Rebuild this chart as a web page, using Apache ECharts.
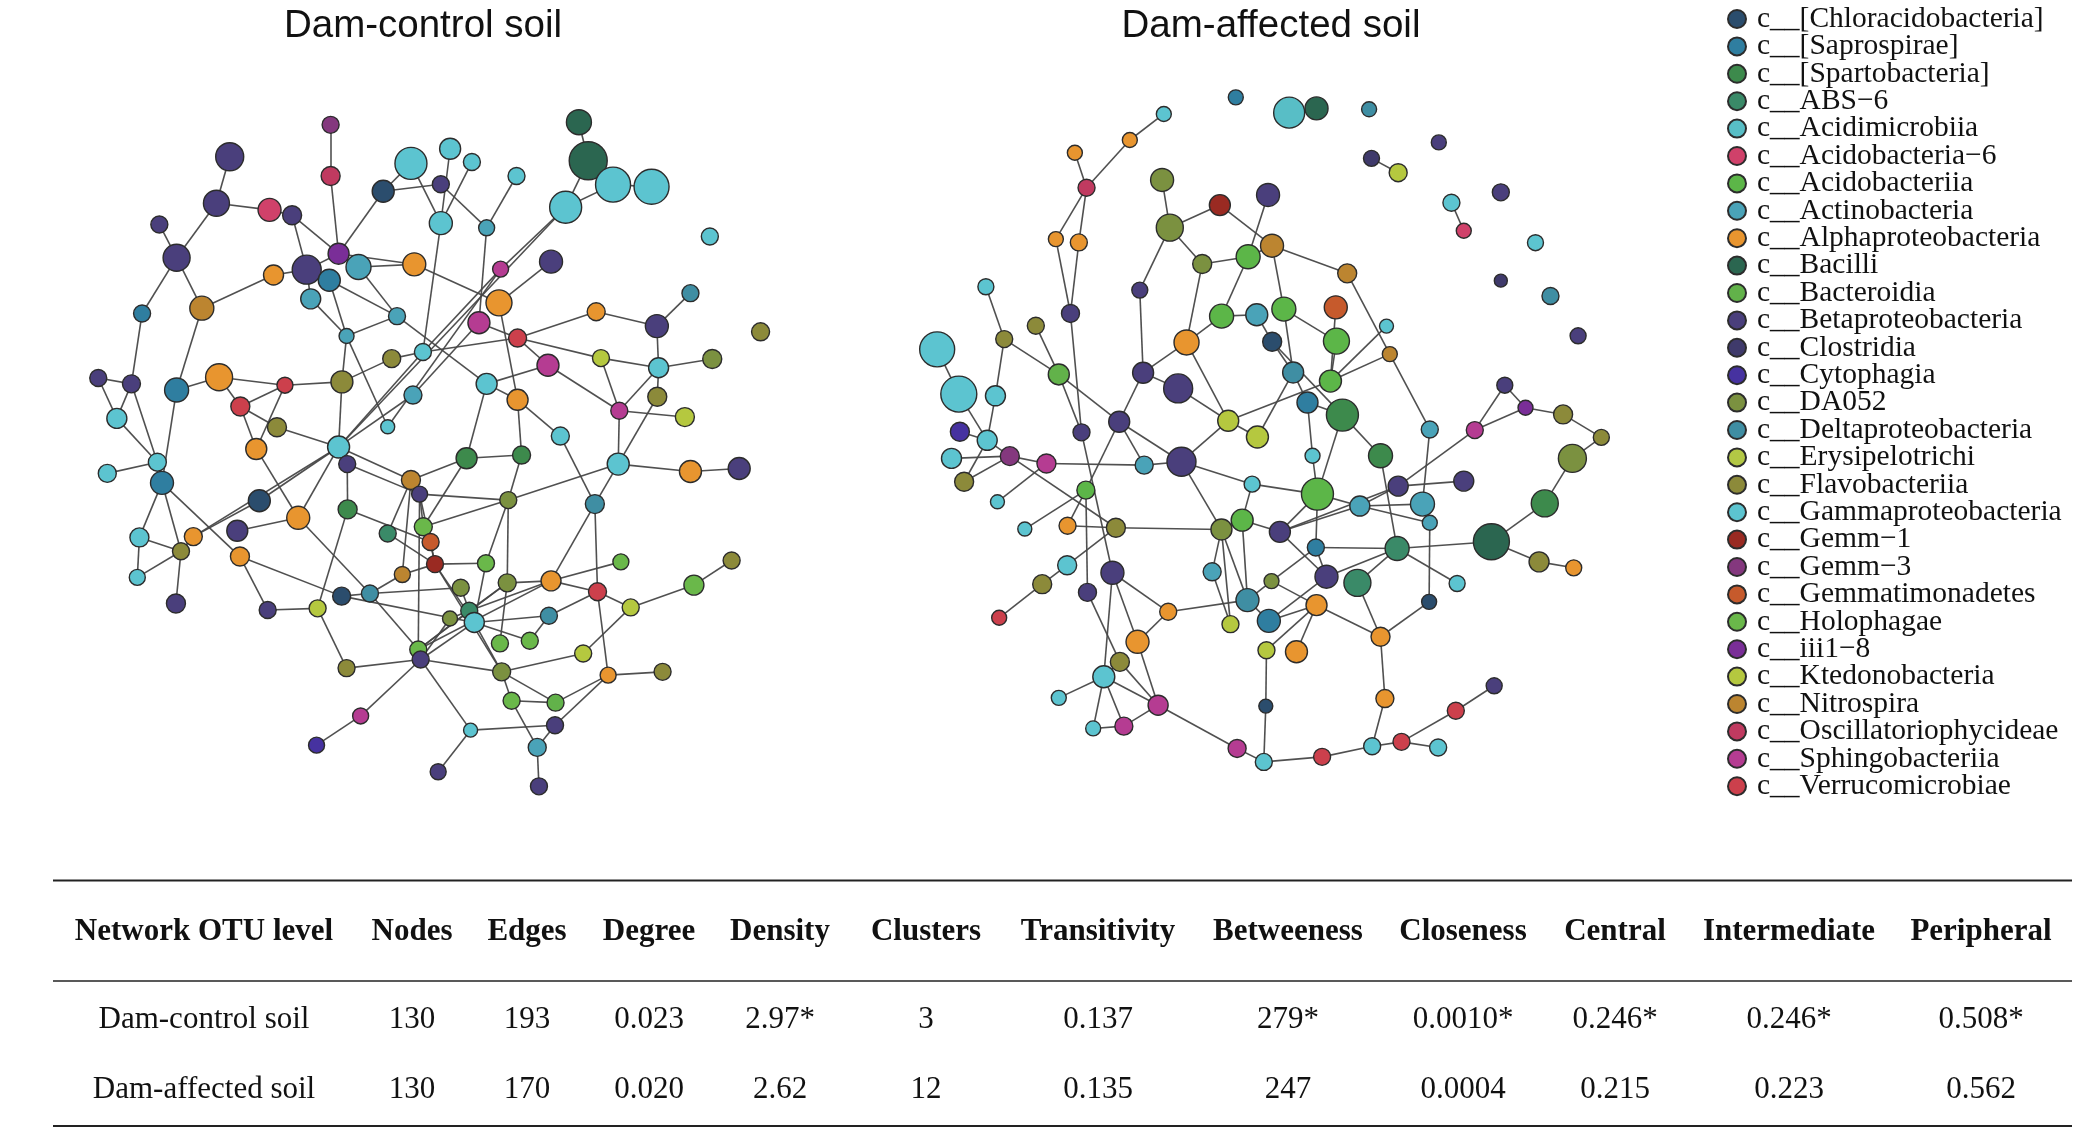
<!DOCTYPE html>
<html>
<head>
<meta charset="utf-8">
<script src="https://cdn.jsdelivr.net/npm/echarts@6/dist/echarts.min.js"></script>
<style>
  html, body { margin: 0; padding: 0; background: #fff; }
  #main { width: 2082px; height: 1137px; }
</style>
</head>
<body>
<div id="main"></div>
<script>
// class names (legend order) and colours
const classNames = [
  'c__[Chloracidobacteria]', 'c__[Saprospirae]', 'c__[Spartobacteria]', 'c__ABS\u22126',
  'c__Acidimicrobiia', 'c__Acidobacteria\u22126', 'c__Acidobacteriia', 'c__Actinobacteria',
  'c__Alphaproteobacteria', 'c__Bacilli', 'c__Bacteroidia', 'c__Betaproteobacteria',
  'c__Clostridia', 'c__Cytophagia', 'c__DA052', 'c__Deltaproteobacteria',
  'c__Erysipelotrichi', 'c__Flavobacteriia', 'c__Gammaproteobacteria', 'c__Gemm\u22121',
  'c__Gemm\u22123', 'c__Gemmatimonadetes', 'c__Holophagae', 'c__iii1\u22128',
  'c__Ktedonobacteria', 'c__Nitrospira', 'c__Oscillatoriophycideae', 'c__Sphingobacteriia',
  'c__Verrucomicrobiae'
];
const classColors = [
  '#2b4d6d', '#2f7ea0', '#3d8a4c', '#3a8a68', '#58bec6', '#d0416a', '#5cb648', '#4aa3b8',
  '#e8952f', '#2b6650', '#62b24a', '#4a3f7c', '#3f3a6b', '#4632a0', '#7b9140', '#3f8ea3',
  '#b3c845', '#8c8a3a', '#5cc4d0', '#9a2a22', '#84387e', '#c65a2c', '#6ab84a', '#7a2e98',
  '#b5c83f', '#bc8530', '#c03a60', '#b53c92', '#cc404c'
];

// nodes: [name, x, y, class, size]  (x,y in picture units 1568 x 856)
const controlNodes = [
  ['n1',249,94,20,17],['n2',249,132.5,26,19],['n3',173,118,11,28],['n4',163,153,11,26],
  ['n5',203,158,5,23],['n6',220,162,11,19],['n7',120,169,11,17],['n8',133,194,11,27],
  ['n9',255,191,23,21],['n10',231,203,11,29],['n11',248,211,1,22],['n12',270,201,7,25],
  ['n13',206,207,8,20],['n14',312,199,8,23],['n15',234,225,7,20],['n16',152,232,25,24],
  ['n17',107,236,1,17],['n18',299,238,7,17],['n19',261,253,7,15],['n20',295,270,17,18],
  ['n21',318.5,265,18,17],['n22',257.5,287.5,17,22],['n23',214.6,290,28,16],['n24',165,284,8,27],
  ['n25',133,293.6,1,24],['n26',99,289,11,18],['n27',74,284.6,11,17],['n28',181,306,28,19],
  ['n29',208.6,321.7,17,19],['n30',88,315,18,20],['n31',193,338,8,21],['n32',255,336.5,18,22],
  ['n33',311,297.4,7,18],['n34',292,321.3,18,14],['n35',118.5,348,18,18],['n36',309.5,123,18,32],
  ['n37',288.6,144,0,22],['n38',339,112,18,21],['n39',355.4,122,18,17],['n40',332,138.7,11,17],
  ['n41',332,168,18,23],['n42',366.5,171.5,7,16],['n43',389,132.5,18,17],['n44',436,92,9,25],
  ['n45',443,121,9,38],['n46',461.7,139,18,35],['n47',490.7,140.6,18,35],['n48',426,156,18,32],
  ['n49',534.6,178,18,17],['n50',415,197,11,23],['n51',377,202.6,27,16],['n52',375.8,228,8,26],
  ['n53',360.7,243,27,22],['n54',389.8,254.5,28,18],['n55',449,234.7,8,18],['n56',494.7,245.5,11,23],
  ['n57',520,220.7,15,17],['n58',572.8,249.8,17,18],['n59',412.7,275,27,22],['n60',452.6,269.6,24,17],
  ['n61',496,276.9,18,20],['n62',536.4,270.3,14,19],['n63',495,298.7,17,19],['n64',466.4,309.2,27,17],
  ['n65',515.8,314,24,19],['n66',366.5,289,18,21],['n67',389.8,301,8,21],['n68',422,328.3,18,18],
  ['a',80.8,356.4,18,18],['c',122,363.5,1,23],['f',261.5,349.4,11,17],['g',309.5,361.4,25,19],
  ['h',316,372,11,16],['i',195.3,377,0,22],['j',224.6,389.8,8,23],['k',261.8,383.5,2,19],
  ['l',178.7,399.6,11,21],['m',105,404.6,18,19],['n',145.6,404,8,18],['o',136.3,415,17,17],
  ['p',180.7,419,8,19],['q',292,401.6,3,17],['r',318.8,396.6,22,18],['s',324.3,408,21,17],
  ['t',327.6,424.7,19,17],['u',303,432.5,25,16],['v',103.4,434.7,18,16],['w',132.5,454.3,11,19],
  ['x',201.6,459.3,11,17],['y',239.2,458,24,17],['z',257.3,448.8,0,18],['aa',278.6,446.8,15,17],
  ['bb',315,489,22,17],['cc',316.8,496.5,11,17],['dd',261,503,17,17],['ee',271.6,539,27,16],
  ['ff',238.4,561,13,16],['gg',330,581,11,16],['A',351.4,345,2,21],['B',392.8,342.6,2,18],
  ['D',465.6,349.4,18,22],['E',520,355,8,22],['F',556.7,352.7,11,22],['H',382.8,376.5,14,17],
  ['I',448,379.5,15,19],['M',366,424,22,17],['N',382,438.8,14,18],['O',347,442.5,14,17],
  ['P',415,437.3,8,20],['Q',467.6,423,22,16],['R',551,422,17,17],['S',450,445.5,28,18],
  ['T',522.6,440.5,22,20],['U',475,457.3,24,17],['V',353.4,459.8,3,17],['W',338.9,465.6,14,15],
  ['X',357.2,468.6,18,20],['Y',413.4,463.6,15,17],['Z',376.5,484.4,22,17],['AA',399,482.4,22,17],
  ['AB',439.2,492,24,17],['AC',377.8,505.8,14,18],['AD',458,508.3,8,16],['AE',499,505.8,17,17],
  ['AF',385.3,527.6,22,17],['AG',418.4,529,10,17],['AH',418,546,11,17],['AI',354.4,549.7,18,14],
  ['AJ',404.6,562.7,7,18],['AL',405.9,592,11,17]
];
const controlEdges = [
  ['n1','n2'],['n2','n9'],['n3','n4'],['n4','n5'],['n4','n8'],['n5','n6'],['n7','n8'],['n8','n17'],
  ['n8','n16'],['n6','n9'],['n6','n10'],['n9','n37'],['n9','n12'],['n9','n10'],['n10','n13'],['n13','n16'],
  ['n9','n14'],['n12','n14'],['n12','n18'],['n11','n19'],['n11','n18'],['n10','n15'],['n15','n19'],['n10','n11'],
  ['n18','n19'],['n19','n22'],['n19','n34'],['n16','n25'],['n17','n26'],['n27','n26'],['n26','n30'],['n27','n30'],
  ['n24','n23'],['n24','n25'],['n23','n22'],['n22','n20'],['n20','n21'],['n24','n28'],['n28','n23'],['n28','n29'],
  ['n28','n31'],['n23','n31'],['n29','n32'],['n22','n32'],['n32','n33'],['n32','n21'],['n36','n37'],['n37','n40'],
  ['n36','n41'],['n41','n21'],['n14','n52'],['n38','n41'],['n39','n41'],['n40','n42'],['n43','n42'],['n44','n45'],
  ['n45','n48'],['n48','n46'],['n45','n46'],['n46','n47'],['n48','n51'],['n51','n21'],['n42','n53'],['n50','n52'],
  ['n52','n67'],['n53','n54'],['n54','n55'],['n55','n56'],['n56','n57'],['n56','n61'],['n54','n59'],['n54','n21'],
  ['n53','n33'],['n18','n66'],['n66','n59'],['n66','n67'],['n66','A'],['n67','B'],['n67','n68'],['n59','n64'],
  ['n60','n64'],['n54','n60'],['n60','n61'],['n61','n62'],['n61','n63'],['n64','n65'],['n61','n64'],['n63','D'],
  ['n64','D'],['n68','I'],['n32','n48'],['n34','n51'],
  ['a','n35'],['n35','c'],['n30','n35'],['n26','n35'],['n25','c'],['c','m'],['c','o'],['c','p'],
  ['m','o'],['m','v'],['v','o'],['o','w'],['n','o'],['n','i'],['n','n32'],['n31','j'],
  ['n32','i'],['n32','j'],['n32','f'],['f','k'],['n32','g'],['f','h'],['l','j'],['j','aa'],
  ['p','z'],['p','x'],['x','y'],['y','k'],['y','dd'],['z','aa'],['aa','u'],['z','X'],
  ['aa','O'],['aa','bb'],['k','s'],['q','t'],['g','q'],['g','u'],['g','h'],['h','r'],
  ['h','t'],['u','t'],['bb','cc'],['cc','dd'],['cc','ee'],['ee','ff'],['cc','AI'],['gg','AI'],['h','bb'],
  ['A','B'],['A','g'],['A','r'],['B','H'],['D','E'],['E','F'],['D','H'],['D','I'],
  ['h','H'],['H','r'],['H','N'],['H','M'],['I','P'],['I','S'],['t','M'],['M','X'],
  ['N','P'],['P','Q'],['P','S'],['P','V'],['P','bb'],['S','U'],['S','Y'],['S','AD'],
  ['U','T'],['T','R'],['U','AB'],['Y','AA'],['X','Y'],['X','AA'],['V','N'],['W','V'],
  ['W','cc'],['V','bb'],['X','cc'],['N','bb'],['Z','N'],['X','AC'],['t','AC'],['AC','AB'],
  ['AC','AF'],['AC','AG'],['cc','AC'],['AF','AG'],['AF','AJ'],['AG','AD'],['AH','AD'],['AH','AJ'],
  ['AI','AH'],['AJ','AL'],['AD','AE'],['O','V'],['t','X'],['r','s'],['s','t'],['X','V']
];

const affectedNodes = [
  ['R1',930.7,73.3,1,15],['R2',876.5,85.8,18,15],['R3',850.9,105.4,8,15],['R4',809.5,115,8,15],
  ['R5',818.3,141.3,26,17],['R6',795.2,180,8,15],['R7',812.5,182.5,8,17],['R8',875.2,135.5,14,23],
  ['R9',918.7,154.4,19,21],['R10',881,171.4,14,27],['R11',905.4,198.8,14,19],['R12',940,193.3,6,24],
  ['R14',742.5,215.9,18,16],['R15',858.4,218.4,11,16],['R16',806.2,236,11,18],['R17',780.1,245.2,17,17],
  ['R18',756.3,255.3,17,17],['R19',920,238,6,24],['R20',946.5,237,7,22],['R21',893.6,257.8,8,25],
  ['R22',705.8,263,18,35],['R23',722.1,296.7,18,36],['R24',749.7,298,18,20],['R25',797.4,281.9,10,21],
  ['R26',860.9,280.6,11,21],['R27',887.3,292.4,11,29],['R28',925,316.8,24,21],['R29',947,329,24,22],
  ['R30',722.9,325,13,19],['R31',743.5,331.5,18,20],['R32',814.5,325.5,11,17],['R33',842.9,317.5,11,21],
  ['S1',970.9,84.8,4,31],['S2',991.5,81.6,9,23],['S3',1031.1,82.3,15,15],['S4',1083.6,107.2,11,15],
  ['S5',1032.9,119.2,12,16],['S6',1053,130,24,18],['S7',955,146.8,11,23],['S8',1130.3,144.8,11,17],
  ['S9',1093.1,152.6,18,17],['S10',1102.4,173.7,5,15],['S11',1156.4,182.7,18,16],['S12',1130.3,211.3,12,13],
  ['S13',1167.7,222.9,15,17],['S14',1188.5,252.8,11,16],['S15',958,185,25,23],['S16',1014.6,205.8,25,19],
  ['S17',966.9,232.7,6,24],['S18',1006,231.4,21,23],['S19',1044.2,245.5,18,14],['S21',958.1,257.3,0,19],
  ['S22',1006.5,256.8,6,26],['S23',1046.7,266.6,25,15],['S24',973.9,280.4,15,21],['S25',1002,286.9,6,22],
  ['S26',984.7,303,1,21],['S27',1011,312.5,2,32],['S28',1076.8,323.3,7,17],['S29',1110.7,323.8,27,17],
  ['S30',1133.3,290,11,16],['S31',1148.9,307,23,15],['S32',1177.2,312,17,19],['S33',1206,329.3,17,16],
  ['T3',716.6,345.1,18,20],['T4',760.5,343.4,20,19],['T5',788.1,348.9,27,19],['T6',726.1,362.7,17,19],
  ['T7',751.2,377.8,18,14],['T10',817.8,369,6,18],['T11',861.7,350.2,7,18],['T12',889.8,347.6,11,29],
  ['T13',771.8,398.3,18,14],['T14',804,395.8,8,17],['T15',840.4,397.3,17,19],['T16',919.9,398.6,14,21],
  ['T17',935.5,391.6,6,22],['T18',943,364.5,18,16],['T19',803.7,425.5,18,19],['T20',784.9,439.8,17,19],
  ['T21',752.5,465.1,28,15],['T22',837.8,431.2,11,23],['T23',819,446,11,18],['T24',912.9,430.5,7,18],
  ['T25',939.5,451.8,15,23],['T26',926.7,469.9,24,17],['T27',879.8,460.6,8,17],['T28',856.7,483.2,8,23],
  ['T29',843.4,498.3,17,19],['T30',831.3,509.5,18,22],['T31',797.4,525.4,18,15],['T32',872.2,530.9,27,20],
  ['T33',823.3,548.4,18,15],['T34',846.4,546.7,27,18],['T35',931.7,563.5,27,18],
  ['U5',988.5,343.1,18,15],['U6',1039.7,343.1,2,24],['U7',1053,366,11,20],['U8',1102.4,362.2,11,20],
  ['U9',992.2,372,6,32],['U10',1024.1,381,7,20],['U11',1071.3,379.5,7,24],['U12',1076.8,393.6,7,15],
  ['U13',1184.2,345.1,14,28],['U15',1163.4,379,2,27],['U16',1123.2,407.9,9,36],['U17',1159.1,423,17,20],
  ['U18',1185.2,427.5,8,16],['U19',963.9,400.4,11,21],['U20',991,412.2,1,17],['U21',1052.2,412.9,3,24],
  ['U22',957.6,437.5,14,15],['U23',999,434.2,11,23],['U24',1022.3,438.8,3,27],['U25',1097.4,439.3,18,16],
  ['U26',991.5,455.6,8,21],['U27',1076.3,453.1,0,15],['U28',955.6,467.4,1,23],['U29',953.8,489.5,24,17],
  ['U30',976.4,490.7,8,22],['U31',1039.7,479.4,8,19],['U32',1043,525.9,8,18],['U33',953.3,531.6,0,14],
  ['U34',1125.3,516.3,11,16],['U35',1096.4,535.1,28,17],['U36',1055.5,558.5,28,17],['U37',1083.1,562.8,18,17],
  ['U38',1033.4,561.8,18,17],['U39',995.7,569.8,28,17],['U40',951.8,573.6,18,17]
];
const affectedEdges = [
  ['R2','R3'],['R3','R5'],['R4','R5'],['R5','R6'],['R5','R7'],['R6','R16'],['R7','R16'],['R8','R10'],
  ['R10','R9'],['R9','S15'],['R10','R11'],['R11','R12'],['R10','R15'],['R11','R21'],['R12','R19'],['R19','R20'],
  ['R19','R21'],['R21','R26'],['R21','R28'],['R15','R26'],['R26','R27'],['R26','R33'],['R27','R28'],['R28','R29'],
  ['R14','R18'],['R18','R24'],['R17','R25'],['R18','R25'],['R25','R33'],['R25','R32'],['R16','R32'],['R22','R23'],
  ['R23','R31'],['R24','R31'],['R30','R31'],['S7','R12'],['R12','S15'],
  ['S1','S2'],['S5','S6'],['S9','S10'],['S15','S16'],['S15','S17'],['S16','S23'],['S17','S22'],['S18','S25'],
  ['S19','S25'],['S23','S25'],['S23','S28'],['S22','S25'],['S21','S24'],['S21','S27'],['S24','S26'],['S26','S27'],
  ['S24','R29'],['S25','R28'],['S17','S24'],['S30','S31'],['S31','S32'],['S30','S29'],['S31','S29'],['S32','S33'],
  ['R20','S21'],
  ['T3','T4'],['R31','T4'],['R31','T6'],['T6','T4'],['T4','T5'],['T4','T15'],['T5','T11'],['T7','T5'],
  ['T11','R33'],['T11','T12'],['T12','R33'],['T12','T18'],['T12','T16'],['T12','R28'],['R33','T10'],['R32','T22'],
  ['T10','T13'],['T10','T14'],['T10','T23'],['T14','T15'],['T15','T16'],['T15','T19'],['T19','T20'],['T20','T21'],
  ['T16','T17'],['T16','T24'],['T16','T26'],['T16','T25'],['T17','T18'],['T17','T25'],['T24','T26'],['T22','T27'],
  ['T22','T28'],['T22','T30'],['T27','T28'],['T27','T25'],['T23','T29'],['T28','T32'],['T29','T30'],['T29','T32'],
  ['T30','T31'],['T30','T33'],['T30','T34'],['T30','T32'],['T33','T34'],['T34','T32'],['T32','T35'],['T35','U40'],
  ['U40','U39'],['T25','U28'],['T25','U22'],
  ['S33','U13'],['U13','U15'],['U15','U16'],['U16','U17'],['U17','U18'],['U16','U21'],['S29','U7'],['U7','U8'],
  ['U7','U10'],['U19','U7'],['U6','U21'],['U12','U27'],['S28','U11'],['S26','U5'],['U5','U9'],['S27','U9'],
  ['U9','U10'],['U10','U11'],['U10','U12'],['T18','U9'],['U9','U19'],['U9','U20'],['U19','U10'],['U19','U23'],
  ['U20','U21'],['U21','U25'],['U21','U24'],['U21','U23'],['U24','U31'],['U26','U31'],['U27','U31'],['U31','U32'],
  ['U32','U38'],['U38','U36'],['U36','U37'],['U36','U35'],['U35','U34'],['U38','U39'],['U33','U40'],['U33','U29'],
  ['U22','U20'],['U22','U26'],['U23','U28'],['U26','U28'],['U26','U29'],['U26','U30'],['U19','T17'],['U20','U23'],
  ['U11','U12'],['S27','U6']
];

const panelTitles = ['Dam-control soil', 'Dam-affected soil'];

// table
const tableHeader = ['Network OTU level', 'Nodes', 'Edges', 'Degree', 'Density', 'Clusters',
  'Transitivity', 'Betweeness', 'Closeness', 'Central', 'Intermediate', 'Peripheral'];
const rowControl = ['Dam-control soil', '130', '193', '0.023', '2.97*', '3', '0.137', '279*',
  '0.0010*', '0.246*', '0.246*', '0.508*'];
const rowAffected = ['Dam-affected soil', '130', '170', '0.020', '2.62', '12', '0.135', '247',
  '0.0004', '0.215', '0.223', '0.562'];

const chart = echarts.init(document.getElementById('main'));

const toGraph = (nodes, edges) => ({
  data: nodes.map(([name, x, y, cls, size]) => ({
    name, value: [x, y], category: cls, symbolSize: size
  })),
  links: edges.map(([source, target]) => ({ source, target }))
});

const categories = classNames.map((name, i) => ({ name, itemStyle: { color: classColors[i] } }));

const graphSeries = (g) => ({
  type: 'graph',
  coordinateSystem: 'cartesian2d',
  symbol: 'circle',
  categories,
  data: g.data,
  links: g.links,
  silent: true,
  label: { show: false },
  itemStyle: { borderColor: '#2c2c2c', borderWidth: 1.4 },
  lineStyle: { color: '#474747', width: 1.6, opacity: 0.95, curveness: 0 },
  emphasis: { disabled: true }
});

// table layout (px)
const colX = [204, 412, 527, 649, 780, 926, 1098, 1288, 1463, 1615, 1789, 1981];
const rowY = [932, 1020, 1090];
const tableFont = '31px "Liberation Serif", "Times New Roman", serif';
const tableBold = 'bold 31px "Liberation Serif", "Times New Roman", serif';

const tableTexts = [tableHeader, rowControl, rowAffected].flatMap((row, r) =>
  row.map((txt, c) => ({
    type: 'text',
    x: colX[c],
    y: rowY[r],
    style: {
      text: txt,
      font: r === 0 ? tableBold : tableFont,
      fill: '#111',
      align: 'center',
      verticalAlign: 'middle'
    }
  }))
);

const hLine = (y, w) => ({
  type: 'line',
  shape: { x1: 53, y1: y, x2: 2072, y2: y },
  style: { stroke: '#222', lineWidth: w }
});

const titleFont = '38.5px "Liberation Sans", Arial, sans-serif';

chart.setOption({
  backgroundColor: '#ffffff',
  animation: false,
  grid: { left: 0, right: 0, top: 0, bottom: 0 },
  xAxis: { type: 'value', min: 0, max: 1568, show: false },
  yAxis: { type: 'value', min: 0, max: 856, inverse: true, show: false },
  legend: {
    orient: 'vertical',
    left: 1722,
    top: -1,
    icon: 'circle',
    itemWidth: 30,
    itemHeight: 18,
    itemGap: -2.6,
    selectedMode: false,
    data: classNames,
    textStyle: {
      fontFamily: '"Liberation Serif", "Times New Roman", serif',
      fontSize: 29.5,
      lineHeight: 27.4,
      color: '#111'
    }
  },
  graphic: [
    {
      type: 'text', x: 423, y: 26,
      style: { text: panelTitles[0], font: titleFont, fill: '#111', align: 'center', verticalAlign: 'middle' }
    },
    {
      type: 'text', x: 1271, y: 26,
      style: { text: panelTitles[1], font: titleFont, fill: '#111', align: 'center', verticalAlign: 'middle' }
    },
    hLine(880.5, 2),
    hLine(981, 1.5),
    hLine(1126, 2),
    ...tableTexts
  ],
  series: [
    graphSeries(toGraph(controlNodes, controlEdges)),
    graphSeries(toGraph(affectedNodes, affectedEdges))
  ]
});
</script>
</body>
</html>
